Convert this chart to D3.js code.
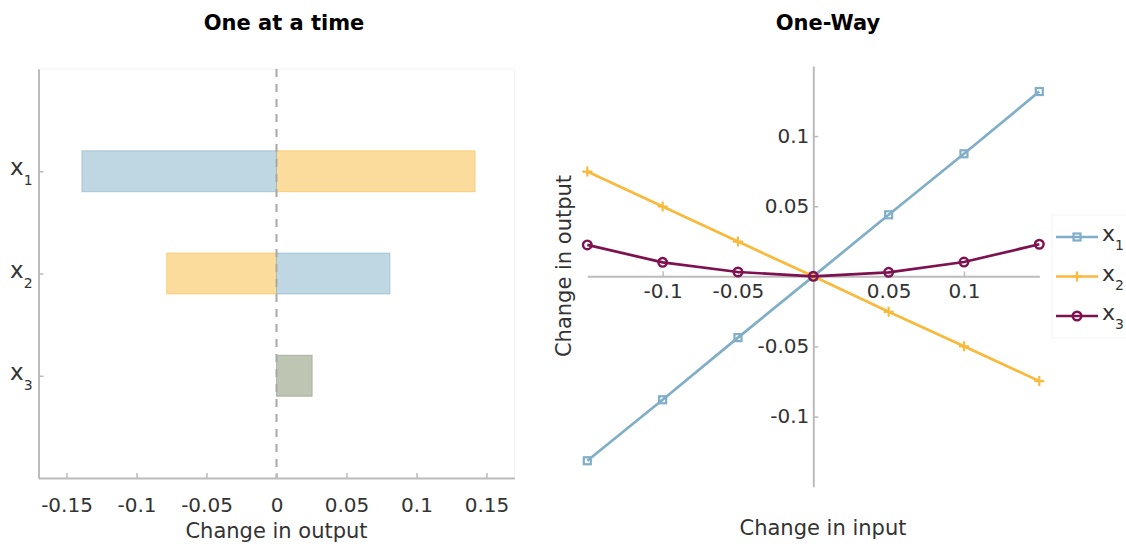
<!DOCTYPE html>
<html>
<head>
<meta charset="utf-8">
<script src="https://cdn.jsdelivr.net/npm/d3@7"></script>
<style>
  body { margin: 0; background: #fff; }
  svg { font-family: "DejaVu Sans", Verdana, sans-serif; }
</style>
</head>
<body>
<svg id="chart"></svg>
<script>
// data
const factors = ['1', '2', '3'];                       // subscripts of x1, x2, x3
const lowInputChange = [-0.139, 0.081, 0.0254];        // blue bars
const highInputChange = [0.1418, -0.0784, 0.0254];     // orange bars
const barTicks = [-0.15, -0.1, -0.05, 0, 0.05, 0.1, 0.15];

const inputSteps = [-0.15, -0.1, -0.05, 0, 0.05, 0.1, 0.15];
const x1Output = [-0.1315, -0.088, -0.0437, 0, 0.0439, 0.0874, 0.1318];
const x2Output = [0.0747, 0.0498, 0.0248, 0, -0.0253, -0.0499, -0.0747];
const x3Output = [0.0224, 0.0100, 0.0031, 0, 0.0029, 0.0102, 0.0229];
const inputTicks = [-0.1, -0.05, 0.05, 0.1];
const outputTicks = [-0.1, -0.05, 0.05, 0.1];

// layout
const width = 1126;
const height = 544;
const blue = '#80aec8';
const orange = '#f9b93b';
const maroon = '#7e1150';
const axisGrey = '#bbbbbb';
const textCol = '#333333';
const plain = d => String(d);   // hyphen minus, like the original

const svg = d3.select('#chart')
    .attr('width', width)
    .attr('height', height);

function styleAxis(g, fontSize) {
  g.select('.domain').attr('stroke', axisGrey).attr('stroke-width', 2);
  g.selectAll('.tick line').attr('stroke', axisGrey).attr('stroke-width', 1.5);
  g.selectAll('.tick text')
      .attr('fill', textCol)
      .style('font-size', fontSize + 'px')
      .style('font-family', '"DejaVu Sans", Verdana, sans-serif');
}

// ---------- left: one at a time ----------
const xL = d3.scaleLinear().domain([-0.17, 0.17]).range([38.5, 514.5]);
const yL = d3.scaleLinear().domain([0, 4]).range([69, 478]);
const barH = yL(0.4) - yL(0);

svg.append('text')
    .attr('x', 284).attr('y', 30)
    .attr('text-anchor', 'middle')
    .style('font-size', '21px').style('font-weight', 'bold')
    .text('One at a time');

// faint box
svg.append('rect')
    .attr('x', xL.range()[0]).attr('y', yL.range()[0])
    .attr('width', xL.range()[1] - xL.range()[0])
    .attr('height', yL.range()[1] - yL.range()[0])
    .attr('fill', 'none').attr('stroke', '#f4f4f4');

const bars = svg.append('g');
// orange first, blue on top (their overlap gives the grey-green of x3)
[[highInputChange, orange], [lowInputChange, blue]].forEach(function(s) {
  bars.selectAll(null)
      .data(s[0])
      .enter()
      .append('rect')
      .attr('x', d => xL(Math.min(0, d)))
      .attr('y', (d, i) => yL(i + 1) - barH / 2)
      .attr('width', d => Math.abs(xL(d) - xL(0)))
      .attr('height', barH)
      .attr('fill', s[1]).attr('fill-opacity', 0.5)
      .attr('stroke', s[1]).attr('stroke-opacity', 0.55);
});

svg.append('line')
    .attr('x1', xL(0)).attr('x2', xL(0))
    .attr('y1', yL(0)).attr('y2', yL(4))
    .attr('stroke', '#a8a8a8').attr('stroke-width', 2)
    .attr('stroke-dasharray', '8,7');

const xAxisL = svg.append('g')
    .attr('transform', 'translate(0,' + yL(4) + ')')
    .call(d3.axisBottom(xL).tickValues(barTicks).tickSize(-5).tickSizeOuter(0)
        .tickPadding(20).tickFormat(plain));
styleAxis(xAxisL, 20);

const yAxisL = svg.append('g')
    .attr('transform', 'translate(' + xL.range()[0] + ',0)')
    .call(d3.axisLeft(yL).tickValues([1, 2, 3]).tickSize(-5).tickSizeOuter(0).tickFormat(''));
styleAxis(yAxisL, 20);

const yLabels = svg.append('g').selectAll('text')
    .data(factors)
    .enter()
    .append('text')
    .attr('x', 10)
    .attr('y', (d, i) => yL(i + 1) + 4)
    .attr('fill', textCol);
yLabels.append('tspan').style('font-size', '23px').text('x');
yLabels.append('tspan').style('font-size', '14px').attr('dy', 10).text(d => d);

svg.append('text')
    .attr('x', xL(0)).attr('y', 538)
    .attr('text-anchor', 'middle')
    .attr('fill', textCol)
    .style('font-size', '21px')
    .text('Change in output');

// ---------- right: one-way ----------
const xR = d3.scaleLinear().domain([-0.15, 0.15]).range([587.3, 1039.3]);
const yR = d3.scaleLinear().domain([-0.15, 0.15]).range([486.7, 66]);

svg.append('text')
    .attr('x', 828).attr('y', 30)
    .attr('text-anchor', 'middle')
    .style('font-size', '21px').style('font-weight', 'bold')
    .text('One-Way');

const xAxisR = svg.append('g')
    .attr('transform', 'translate(0,' + yR(0) + ')')
    .call(d3.axisBottom(xR).tickValues(inputTicks).tickSize(-5).tickSizeOuter(0)
        .tickPadding(7).tickFormat(plain));
styleAxis(xAxisR, 20);

const yAxisR = svg.append('g')
    .attr('transform', 'translate(' + xR(0) + ',0)')
    .call(d3.axisLeft(yR).tickValues(outputTicks).tickSize(-5).tickSizeOuter(0)
        .tickPadding(4).tickFormat(plain));
styleAxis(yAxisR, 20);

svg.append('text')
    .attr('transform', 'translate(571,266)rotate(-90)')
    .attr('text-anchor', 'middle')
    .attr('fill', textCol)
    .style('font-size', '21px')
    .text('Change in output');

svg.append('text')
    .attr('x', 823).attr('y', 535)
    .attr('text-anchor', 'middle')
    .attr('fill', textCol)
    .style('font-size', '21px')
    .text('Change in input');

const series = [
  {name: '1', values: x1Output, color: blue, marker: 'square'},
  {name: '2', values: x2Output, color: orange, marker: 'plus'},
  {name: '3', values: x3Output, color: maroon, marker: 'circle'}
];

function drawMarker(g, type, color) {
  if (type === 'square') {
    g.append('rect').attr('x', -3.5).attr('y', -3.5).attr('width', 7).attr('height', 7)
        .attr('fill', 'none').attr('stroke', color).attr('stroke-width', 2.2);
  } else if (type === 'plus') {
    g.append('path').attr('d', 'M-5,0H5M0,-5V5')
        .attr('stroke', color).attr('stroke-width', 2.2);
  } else {
    g.append('circle').attr('r', 4.3)
        .attr('fill', 'none').attr('stroke', color).attr('stroke-width', 2.4);
  }
}

const line = d3.line()
    .x((d, i) => xR(inputSteps[i]))
    .y(d => yR(d));

series.forEach(function(s) {
  svg.append('path')
      .datum(s.values)
      .attr('d', line)
      .attr('fill', 'none')
      .attr('stroke', s.color)
      .attr('stroke-width', 2.7);
  svg.append('g').selectAll('g')
      .data(s.values)
      .enter()
      .append('g')
      .attr('transform', (d, i) => 'translate(' + xR(inputSteps[i]) + ',' + yR(d) + ')')
      .each(function() { drawMarker(d3.select(this), s.marker, s.color); });
});

// legend
const legend = svg.append('g');
legend.append('rect')
    .attr('x', 1052).attr('y', 215).attr('width', 80).attr('height', 123)
    .attr('fill', '#fff').attr('stroke', '#f4f4f4');
series.forEach(function(s, i) {
  const ly = 237 + i * 39.5;
  legend.append('line')
      .attr('x1', 1056).attr('x2', 1098).attr('y1', ly).attr('y2', ly)
      .attr('stroke', s.color).attr('stroke-width', 2.7);
  drawMarker(legend.append('g').attr('transform', 'translate(1077,' + ly + ')'), s.marker, s.color);
  const t = legend.append('text')
      .attr('x', 1102).attr('y', ly + 4)
      .attr('fill', textCol);
  t.append('tspan').style('font-size', '22px').text('x');
  t.append('tspan').style('font-size', '14px').attr('dy', 9).text(s.name);
});
</script>
</body>
</html>
